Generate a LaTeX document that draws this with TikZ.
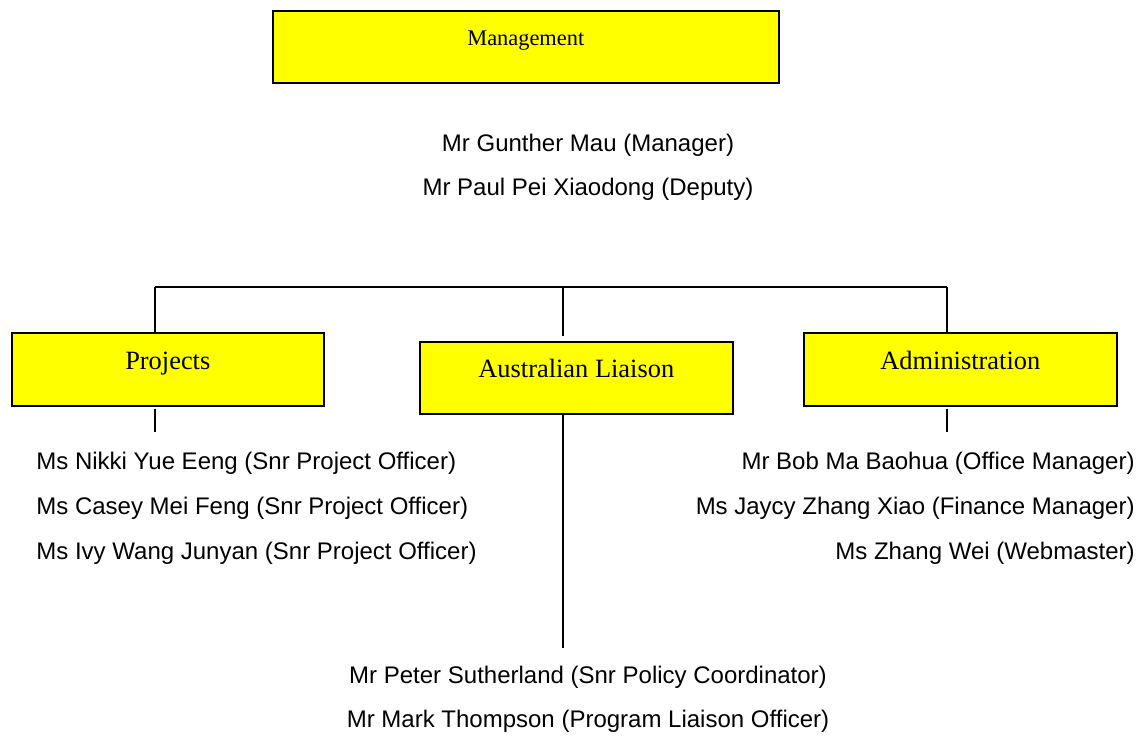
\documentclass[tikz,border=0pt]{standalone}
\usepackage{fontspec}
\setmainfont{Liberation Serif}
\newfontfamily\staff{Liberation Sans}
\definecolor{unitfill}{RGB}{255,255,0}
\begin{document}
\begin{tikzpicture}[x=0.5pt,y=-0.5pt,
  unitbox/.style={draw=black, line width=0.8pt, fill=unitfill, inner xsep=0pt, inner ysep=0pt,
    font=\fontsize{13.2pt}{15pt}\selectfont, anchor=north west},
  person/.style={font=\staff\fontsize{12pt}{14pt}\selectfont, inner sep=0pt},
  link/.style={draw=black, line width=0.8pt}]
\useasboundingbox (0,0) rectangle (1144,742);

% unit boxes
\node[unitbox, minimum width=253pt, text height=17.5pt, text depth=18.5pt,
      font=\fontsize{11.2pt}{13pt}\selectfont] (mgmt) at (272,10) {Management};
\node[unitbox, minimum width=156pt, text height=18.5pt, text depth=18pt] (proj) at (11,332) {Projects};
\node[unitbox, minimum width=156.5pt, text height=18pt, text depth=18pt] (aus) at (419,341) {Australian Liaison};
\node[unitbox, minimum width=156.5pt, text height=18.5pt, text depth=18pt] (admin) at (803,332) {Administration};

% management staff
\node[person, anchor=base] (gm) at (588,152) {Mr Gunther Mau (Manager)};
\node[person, anchor=base] (pp) at (588,196) {Mr Paul Pei Xiaodong (Deputy)};

% projects staff
\node[person, anchor=base west] (ny) at (36,469) {Ms Nikki Yue Eeng (Snr Project Officer)};
\node[person, anchor=base west] (cm) at (36,514) {Ms Casey Mei Feng (Snr Project Officer)};
\node[person, anchor=base west] (iw) at (36,559) {Ms Ivy Wang Junyan (Snr Project Officer)};

% administration staff
\node[person, anchor=base east] (bm) at (1135,469) {Mr Bob Ma Baohua (Office Manager)};
\node[person, anchor=base east] (jz) at (1135,514) {Ms Jaycy Zhang Xiao (Finance Manager)};
\node[person, anchor=base east] (zw) at (1135,559) {Ms Zhang Wei (Webmaster)};

% liaison staff
\node[person, anchor=base] (ps) at (588,683) {Mr Peter Sutherland (Snr Policy Coordinator)};
\node[person, anchor=base] (mt) at (588,727) {Mr Mark Thompson (Program Liaison Officer)};

% bus line and drops
\coordinate (busP) at (155,287);
\coordinate (busA) at (563,287);
\coordinate (busD) at (947,287);
\draw[link] (busP) -- (busD);
\draw[link] (busP) -- (busP |- proj.north);
\draw[link, shorten >=2.5pt] (busA) -- (busA |- aus.north);
\draw[link] (busD) -- (busD |- admin.north);

% stems below the boxes
\coordinate (endP) at (155,432);
\coordinate (endA) at (563,648);
\coordinate (endD) at (947,432);
\draw[link, shorten <=1pt] (endP |- proj.south) -- (endP);
\draw[link] (endA |- aus.south) -- (endA);
\draw[link, shorten <=1pt] (endD |- admin.south) -- (endD);
\end{tikzpicture}
\end{document}
